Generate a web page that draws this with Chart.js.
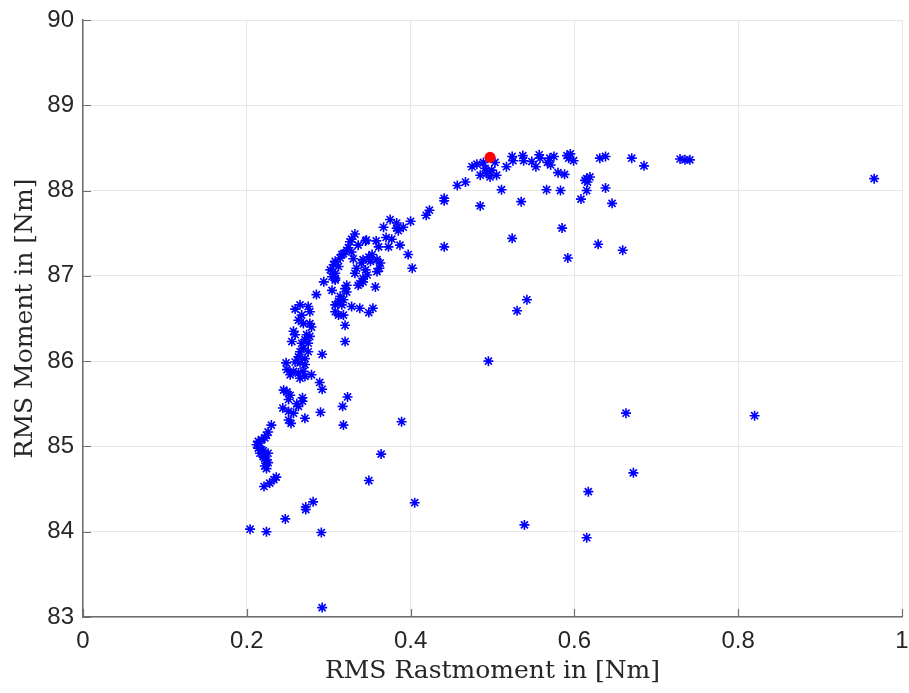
<!DOCTYPE html>
<html>
<head>
<meta charset="utf-8">
<script src="https://cdn.jsdelivr.net/npm/chart.js@4.4.1/dist/chart.umd.min.js"></script>
<style>
  html, body { margin: 0; padding: 0; background: #fff; }
  canvas { display: block; }
</style>
</head>
<body>
<canvas id="chart" width="909" height="693"></canvas>
<script>
// RMS Rastmoment (x) vs RMS Moment (y)
const rastX = [
  // upper plateau
  0.475, 0.481, 0.489, 0.503, 0.485, 0.493, 0.497, 0.505, 0.491, 0.499,
  0.517, 0.524, 0.525, 0.537, 0.538, 0.548, 0.553, 0.557, 0.558, 0.567,
  0.571, 0.575, 0.570, 0.591, 0.595, 0.599, 0.593, 0.580, 0.588, 0.615,
  0.619, 0.616, 0.613, 0.631, 0.638, 0.511, 0.566, 0.583, 0.615, 0.535,
  0.608, 0.485, 0.638, 0.646, 0.670, 0.685, 0.729, 0.735, 0.741, 0.966,
  0.457, 0.467, 0.441, 0.441, 0.585, 0.524, 0.441, 0.629, 0.659, 0.592,
  // rising curve
  0.423, 0.419, 0.400, 0.375, 0.383, 0.391, 0.367, 0.383, 0.385, 0.370,
  0.377, 0.346, 0.358, 0.387, 0.361, 0.373, 0.397, 0.402,
  0.332, 0.345, 0.326, 0.328, 0.322, 0.318, 0.328, 0.316, 0.314, 0.308,
  0.306, 0.302, 0.308, 0.304, 0.308, 0.342, 0.349, 0.353, 0.340, 0.351,
  0.359, 0.363, 0.362, 0.359, 0.334, 0.332, 0.345, 0.347, 0.342, 0.338,
  0.336, 0.357, 0.322, 0.320, 0.322, 0.294, 0.304, 0.285, 0.314, 0.312,
  0.316, 0.308, 0.308, 0.312, 0.318, 0.328, 0.338, 0.349, 0.354, 0.320,
  0.320, 0.318, 0.342, 0.308, 0.324, 0.336, 0.330, 0.312,
  // lower left cluster
  0.265, 0.259, 0.275, 0.277, 0.267, 0.263, 0.269, 0.277, 0.279, 0.257,
  0.259, 0.273, 0.277, 0.271, 0.255, 0.267, 0.275, 0.269, 0.265, 0.275,
  0.292, 0.263, 0.271, 0.259, 0.265, 0.271, 0.248, 0.249, 0.257, 0.263,
  0.253, 0.269, 0.279, 0.265, 0.271, 0.289, 0.292, 0.245, 0.249, 0.253,
  0.268, 0.251, 0.244, 0.251, 0.257, 0.263, 0.261, 0.268, 0.251, 0.254,
  0.271, 0.290, 0.230, 0.226, 0.224, 0.222, 0.218, 0.214, 0.212, 0.214,
  0.218, 0.216, 0.226, 0.220, 0.224, 0.226, 0.222, 0.224, 0.236, 0.233,
  0.228, 0.221, 0.216, 0.220, 0.222,
  // scattered
  0.495, 0.542, 0.530, 0.663, 0.672, 0.820, 0.389, 0.364, 0.323, 0.317,
  0.318, 0.349, 0.281, 0.272, 0.272, 0.247, 0.204, 0.224, 0.291, 0.292,
  0.405, 0.539, 0.617, 0.615
];
const momentY = [
  88.28, 88.31, 88.33, 88.33, 88.18, 88.20, 88.16, 88.18, 88.26, 88.24,
  88.28, 88.40, 88.35, 88.41, 88.35, 88.34, 88.28, 88.42, 88.38, 88.33,
  88.30, 88.40, 88.38, 88.41, 88.43, 88.35, 88.38, 88.21, 88.19, 88.14,
  88.16, 88.10, 88.12, 88.38, 88.40, 88.01, 88.01, 88.00, 88.00, 87.87,
  87.90, 87.82, 88.03, 87.85, 88.38, 88.29, 88.37, 88.36, 88.36, 88.14,
  88.06, 88.10, 87.91, 87.88, 87.56, 87.44, 87.34, 87.37, 87.30, 87.21,
  87.77, 87.71, 87.64, 87.66, 87.62, 87.57, 87.57, 87.56, 87.53, 87.45,
  87.43, 87.42, 87.41, 87.36, 87.34, 87.34, 87.25, 87.09,
  87.49, 87.41, 87.40, 87.43, 87.30, 87.26, 87.28, 87.25, 87.21, 87.17,
  87.13, 87.07, 87.03, 86.99, 86.97, 87.19, 87.22, 87.25, 87.15, 87.17,
  87.19, 87.15, 87.09, 87.05, 87.09, 87.03, 87.07, 87.01, 86.97, 86.91,
  86.89, 86.87, 86.89, 86.85, 86.81, 86.93, 86.83, 86.78, 86.76, 86.70,
  86.66, 86.66, 86.58, 86.54, 86.54, 86.64, 86.62, 86.57, 86.62, 86.42,
  86.23, 86.72, 86.93, 86.95, 87.33, 87.36, 87.20, 87.11,
  86.66, 86.61, 86.64, 86.58, 86.54, 86.48, 86.44, 86.44, 86.40, 86.35,
  86.31, 86.31, 86.29, 86.25, 86.23, 86.21, 86.21, 86.15, 86.11, 86.11,
  86.08, 86.05, 86.03, 85.99, 85.98, 85.96, 85.98, 85.90, 85.88, 85.86,
  85.84, 85.88, 85.84, 85.80, 85.82, 85.75, 85.67, 85.66, 85.64, 85.60,
  85.57, 85.55, 85.45, 85.41, 85.39, 85.47, 85.50, 85.53, 85.31, 85.27,
  85.33, 85.40, 85.25, 85.17, 85.13, 85.10, 85.08, 85.06, 85.02, 84.98,
  84.96, 84.92, 84.92, 84.88, 84.84, 84.81, 84.77, 84.74, 84.64, 84.61,
  84.57, 84.53, 85.04, 84.95, 84.86,
  86.00, 86.72, 86.59, 85.39, 84.69, 85.36, 85.29, 84.91, 85.58, 85.47,
  85.25, 84.60, 84.35, 84.29, 84.26, 84.15, 84.03, 84.00, 83.99, 83.11,
  84.34, 84.08, 84.47, 83.93
];
// highlighted operating point
const bestX = [0.497];
const bestY = [88.39];

const xTicks = [0, 0.2, 0.4, 0.6, 0.8, 1];
const yTicks = [83, 84, 85, 86, 87, 88, 89, 90];

const axisColor = '#6e6e6e';
const textColor = '#262626';

// MATLAB style: short tick marks pointing into the axes
const inwardTicks = {
    id: 'inwardTicks',
    beforeDatasetsDraw(chart) {
        const { ctx, chartArea: a, scales: { x, y } } = chart;
        ctx.save();
        ctx.strokeStyle = axisColor;
        ctx.lineWidth = 1.2;
        ctx.beginPath();
        xTicks.forEach(v => {
            const px = Math.round(x.getPixelForValue(v)) + 0.5;
            ctx.moveTo(px, a.bottom);
            ctx.lineTo(px, a.bottom - 8);
        });
        yTicks.forEach(v => {
            const py = Math.round(y.getPixelForValue(v)) + 0.5;
            ctx.moveTo(a.left, py);
            ctx.lineTo(a.left + 8, py);
        });
        ctx.stroke();
        ctx.restore();
    }
};

const fmt = v => String(Number(v.toFixed(1)));

new Chart(document.getElementById('chart'), {
    type: 'scatter',
    data: {
        datasets: [
            {
                label: 'best',
                data: bestX.map((v, i) => ({ x: v, y: bestY[i] })),
                pointStyle: 'circle',
                pointRadius: 5.5,
                backgroundColor: '#ff0000',
                borderColor: '#ff0000',
                borderWidth: 0,
                order: 0
            },
            {
                label: 'points',
                data: rastX.map((v, i) => ({ x: v, y: momentY[i] })),
                pointStyle: 'star',
                pointRadius: 5,
                borderColor: '#0000ff',
                backgroundColor: '#0000ff',
                borderWidth: 1.6,
                order: 1
            }
        ]
    },
    options: {
        responsive: false,
        devicePixelRatio: 1,
        animation: false,
        layout: { padding: 0 },
        plugins: {
            legend: { display: false },
            tooltip: { enabled: false }
        },
        scales: {
            x: {
                type: 'linear',
                min: 0,
                max: 1,
                afterBuildTicks: s => { s.ticks = xTicks.map(v => ({ value: v })); },
                afterFit: s => { s.height = 76; s.paddingLeft = 0; s.paddingRight = 7; },
                grid: { color: '#e6e6e6', drawTicks: false, lineWidth: 1 },
                border: { display: true, color: axisColor, width: 1.5 },
                ticks: {
                    padding: 10,
                    color: textColor,
                    font: { family: 'Liberation Sans', size: 24 },
                    callback: v => fmt(v),
                    maxRotation: 0
                },
                title: {
                    display: true,
                    text: 'RMS Rastmoment in [Nm]',
                    color: textColor,
                    font: { family: 'DejaVu Serif', size: 25 },
                    padding: { top: 0, bottom: 7 }
                }
            },
            y: {
                type: 'linear',
                min: 83,
                max: 90,
                afterBuildTicks: s => { s.ticks = yTicks.map(v => ({ value: v })); },
                afterFit: s => { s.width = 83; s.paddingTop = 20; s.paddingBottom = 0; },
                grid: { color: '#e6e6e6', drawTicks: false, lineWidth: 1 },
                border: { display: true, color: axisColor, width: 1.5 },
                ticks: {
                    padding: 9,
                    color: textColor,
                    font: { family: 'Liberation Sans', size: 24 },
                    callback: v => String(v)
                },
                title: {
                    display: true,
                    text: 'RMS Moment in [Nm]',
                    color: textColor,
                    font: { family: 'DejaVu Serif', size: 25 },
                    padding: { top: 10, bottom: 0 }
                }
            }
        }
    },
    plugins: [inwardTicks]
});
</script>
</body>
</html>
